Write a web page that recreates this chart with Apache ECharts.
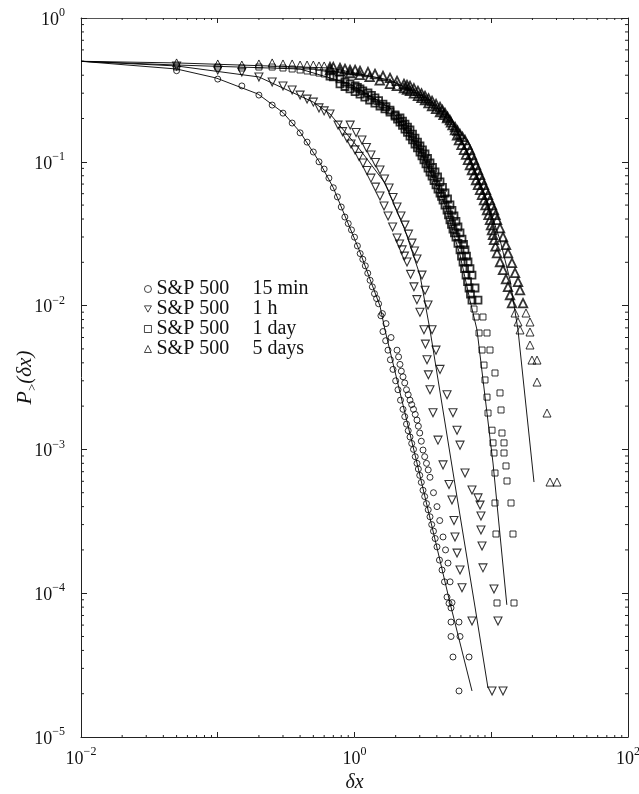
<!DOCTYPE html>
<html><head><meta charset="utf-8">
<script src="https://cdn.jsdelivr.net/npm/echarts@6/dist/echarts.min.js"></script>
<style>html,body{margin:0;padding:0;background:#fff}#chart{width:639px;height:794px}</style>
</head><body><div id="chart"></div>
<script>
const FONT = '"Liberation Serif","Times New Roman",serif';

// ---- labels ----
const seriesNames = ['15 min', '1 h', '1 day', '5 days'];
const legendPrefix = 'S&P 500';
const xLabelExps = [-2, 0, 2];
const yLabelExps = [0, -1, -2, -3, -4, -5];
const xMinorTicks = [0.02,0.03,0.04,0.05,0.06,0.07,0.08,0.09,0.2,0.3,0.4,0.5,0.6,0.7,0.8,0.9,2,3,4,5,6,7,8,9,20,30,40,50,60,70,80,90];
const yMinorTicks = [2e-5,3e-5,4e-5,5e-5,6e-5,7e-5,8e-5,9e-5,2e-4,3e-4,4e-4,5e-4,6e-4,7e-4,8e-4,9e-4,2e-3,3e-3,4e-3,5e-3,6e-3,7e-3,8e-3,9e-3,0.02,0.03,0.04,0.05,0.06,0.07,0.08,0.09,0.2,0.3,0.4,0.5,0.6,0.7,0.8,0.9];

// ---- S&P 500, 15 min (circles) ----
const sp15minCore = [[0.05,0.43],[0.1,0.376],[0.15,0.337],[0.2,0.291],[0.25,0.248],[0.3,0.218],[0.35,0.186],[0.4,0.159],[0.45,0.137],[0.5,0.117],[0.55,0.1],[0.6,0.089],[0.65,0.077],[0.7,0.066],[0.75,0.057],[0.8,0.0485],[0.85,0.0413],[0.9,0.0372],[0.95,0.0336],[1.0,0.0299],[1.05,0.026],[1.1,0.023],[1.15,0.021],[1.2,0.0189],[1.25,0.0168],[1.3,0.015],[1.35,0.0135],[1.4,0.0121],[1.45,0.0112],[1.5,0.0103]];
const sp15minTailA = [[1.56,0.0085],[1.615,0.0066],[1.69,0.0057],[1.758,0.0049],[1.83,0.0042],[1.912,0.0036],[2.0,0.003],[2.08,0.0026],[2.17,0.0022],[2.263,0.0019],[2.4,0.0015],[2.546,0.00122],[2.7,0.001],[2.864,0.0008],[3.0,0.00066],[3.169,0.00052],[3.36,0.00042],[3.565,0.00034],[3.78,0.00027],[4.011,0.00021],[4.18,0.00017],[4.364,0.000145],[4.55,0.00012],[4.747,9.4e-5],[4.91,8.5e-5],[5.08,7.9e-5],[5.08,6.3e-5],[5.08,5.0e-5],[5.25,3.6e-5],[5.81,2.09e-5]];
const sp15minTailA2 = [[2.33,0.00169],[2.47,0.00135],[2.62,0.0011],[2.78,0.00089],[2.93,0.00073],[3.08,0.00059],[3.26,0.00047],[3.46,0.00038],[3.67,0.0003],[3.89,0.00024]];
const sp15minTailB = [[1.6,0.0088],[1.7,0.0075],[1.85,0.006],[2.046,0.0049],[2.15,0.0039],[2.263,0.0032],[2.4,0.0026],[2.546,0.0022],[2.7,0.0019],[2.864,0.0016],[3.0,0.0013],[3.169,0.00099],[3.36,0.0008],[3.565,0.00064],[3.78,0.0005],[4.011,0.0004],[4.2,0.00032],[4.439,0.000246],[4.63,0.0002],[4.828,0.000162],[5.0,0.00012],[5.164,8.6e-5],[5.81,6.3e-5],[5.91,5.0e-5],[6.88,3.6e-5]];
const sp15minTailB2 = [[2.1,0.0044],[2.2,0.0035],[2.33,0.0029],[2.47,0.0024],[2.62,0.00205],[2.78,0.00175],[2.93,0.00145],[3.08,0.00114],[3.26,0.00089],[3.46,0.00072]];
const fit15min = [[0.01,0.5],[0.05,0.442],[0.097,0.383],[0.197,0.296],[0.3,0.22],[0.4,0.161],[0.553,0.1],[0.7,0.066],[0.852,0.042],[1.097,0.0236],[1.3,0.0152],[1.536,0.00994],[1.671,0.00677],[2.864,0.000804],[4.993,8.55e-5],[7.232,2.09e-5]];

// ---- S&P 500, 1 h (down triangles) ----
const sp1hCore = [[0.05,0.464],[0.1,0.435],[0.15,0.421],[0.2,0.389],[0.25,0.359],[0.3,0.337],[0.35,0.316],[0.4,0.291],[0.45,0.273],[0.5,0.26],[0.55,0.237],[0.6,0.226],[0.662,0.215]];
const sp1hTailA = [[0.758,0.18],[0.882,0.146],[1.01,0.121],[1.154,0.098],[1.32,0.077],[1.536,0.0578],[1.76,0.042],[2.046,0.0295],[2.23,0.0244],[2.421,0.0201],[2.57,0.0165],[2.72,0.0135],[2.86,0.011],[3.01,0.009],[3.22,0.0068],[3.3,0.0054],[3.39,0.0042],[3.47,0.0033],[3.565,0.0026],[3.75,0.0018],[4.08,0.00116],[4.44,0.00078],[4.91,0.00057],[5.16,0.000445],[5.34,0.00032],[5.43,0.000246],[5.62,0.00019],[5.91,0.000145],[6.11,0.000109],[7.23,6.4e-5],[10.13,2.09e-5]];
const sp1hTailA2 = [[0.818,0.162],[0.944,0.133],[1.08,0.109],[1.234,0.0869],[1.424,0.0667],[1.644,0.0493],[1.9,0.0352],[2.136,0.0268],[2.32,0.0221]];
const sp1hTailB = [[0.93,0.18],[1.134,0.1417],[1.32,0.1115],[1.536,0.0877],[1.79,0.0657],[2.046,0.0485],[2.34,0.0363],[2.633,0.0272],[2.864,0.0211],[3.117,0.0163],[3.28,0.0128],[3.448,0.0101],[3.69,0.0068],[3.945,0.0049],[4.22,0.0036],[4.75,0.0024],[5.25,0.0018],[5.62,0.00136],[5.91,0.00107],[6.43,0.000685],[7.23,0.000522],[8.0,0.00046],[8.28,0.00041],[8.41,0.000344],[8.41,0.000275],[8.56,0.000213],[8.7,0.00015],[10.47,0.000107],[11.2,6.4e-5],[12.19,2.09e-5]];
const sp1hTailB2 = [[1.027,0.16],[1.223,0.1257],[1.424,0.0989],[1.658,0.0759],[1.914,0.0564],[2.188,0.042],[2.482,0.0314],[2.746,0.024]];
const fit1h = [[0.01,0.5],[0.05,0.464],[0.2,0.389],[0.5,0.26],[0.662,0.215],[1.1,0.121],[1.67,0.0712],[2.34,0.0335],[3.01,0.0163],[3.565,0.00677],[5.617,0.000467],[7.61,8.02e-5],[9.467,2.19e-5]];

// ---- S&P 500, 1 day (squares) ----
const sp1dayCore = [[0.05,0.456],[0.1,0.456],[0.15,0.449],[0.2,0.456],[0.25,0.456],[0.3,0.449],[0.35,0.442],[0.4,0.435],[0.45,0.428],[0.5,0.421],[0.55,0.414],[0.6,0.408],[0.662,0.395],[0.7,0.389],[0.783,0.377],[0.852,0.359],[0.927,0.348],[1.01,0.337],[1.05,0.329],[1.097,0.321],[1.15,0.311],[1.255,0.301],[1.33,0.29],[1.412,0.278],[1.5,0.266],[1.615,0.252],[1.7,0.242],[1.818,0.229]];
const sp1dayTailA = [[1.98,0.208],[2.151,0.189],[2.34,0.169],[2.546,0.151],[2.77,0.133],[3.012,0.117],[3.22,0.103],[3.448,0.0905],[3.69,0.0796],[3.945,0.069],[4.22,0.0607],[4.44,0.0542],[4.75,0.0462],[4.99,0.0394],[5.25,0.0341],[5.52,0.03],[5.91,0.0244],[6.22,0.0201],[6.54,0.0163],[6.88,0.01326],[7.23,0.0109],[7.48,0.00947],[7.74,0.00833],[8.14,0.00645],[8.56,0.00491],[8.85,0.00386],[9.0,0.00304],[9.31,0.00231],[9.47,0.00179],[10.13,0.00136],[10.3,0.00111],[10.47,0.000944],[10.65,0.000685],[10.65,0.000424],[10.83,0.000258],[11.02,8.55e-5]];
const sp1dayTailA2 = [[2.064,0.198],[2.244,0.179],[2.44,0.16],[2.656,0.142],[2.888,0.125],[3.114,0.11],[3.332,0.0966],[3.567,0.0849],[3.815,0.0741],[4.08,0.0647],[4.33,0.0574],[4.59,0.05],[4.87,0.0427],[5.12,0.0367],[5.38,0.032],[5.71,0.0271],[6.06,0.0221],[6.38,0.0181],[6.71,0.0147],[7.05,0.012]];
const sp1dayTailB = [[0.783,0.348],[0.927,0.321],[1.097,0.296],[1.29,0.269],[1.536,0.2444],[1.818,0.222],[2.151,0.2017],[2.34,0.183],[2.546,0.1664],[2.77,0.1463],[3.012,0.1288],[3.278,0.1133],[3.565,0.0981],[3.88,0.0849],[4.22,0.0724],[4.59,0.0607],[4.99,0.0501],[5.34,0.042],[5.71,0.0352],[6.11,0.029],[6.43,0.0244],[6.76,0.0201],[7.23,0.0163],[7.61,0.01326],[8.0,0.0109],[8.7,0.00833],[9.31,0.00645],[9.79,0.00491],[10.65,0.0034],[11.59,0.00247],[11.79,0.00188],[11.98,0.0013],[12.4,0.00111],[12.4,0.000944],[12.82,0.000767],[13.04,0.000603],[13.95,0.000424],[14.42,0.000258],[14.67,8.55e-5]];
const sp1dayTailB2 = [[0.852,0.334],[1.01,0.308],[1.19,0.282],[1.41,0.256],[1.67,0.233],[1.98,0.212],[2.244,0.192],[2.44,0.1745],[2.656,0.156],[2.888,0.137],[3.14,0.121],[3.42,0.1054],[3.72,0.0913],[4.05,0.0784],[4.4,0.0663],[4.79,0.0551],[5.16,0.0459],[5.52,0.0385],[5.91,0.032],[6.27,0.0266],[6.59,0.0221],[6.99,0.0181]];
const fit1day = [[0.01,0.5],[0.05,0.471],[0.4,0.442],[0.927,0.348],[1.818,0.237],[3.012,0.121],[4.59,0.0501],[5.91,0.0225],[6.99,0.0109],[7.87,0.00677],[10.3,0.000804],[13.0,8.3e-5]];

// ---- S&P 500, 5 days (up triangles) ----
const sp5dayCore = [[0.05,0.487],[0.1,0.479],[0.15,0.471],[0.2,0.479],[0.25,0.487],[0.3,0.479],[0.35,0.479],[0.4,0.471],[0.45,0.471],[0.5,0.471],[0.55,0.464],[0.6,0.464],[0.662,0.456],[0.7,0.456],[0.783,0.449],[0.852,0.442],[0.927,0.435],[1.01,0.435],[1.097,0.428],[1.255,0.421],[1.412,0.408],[1.615,0.395],[1.818,0.383],[2.046,0.365]];
const sp5dayTailA = [[2.3,0.348],[2.546,0.337],[2.91,0.311],[3.278,0.287],[3.69,0.265],[4.22,0.2405],[4.59,0.2185],[4.99,0.195],[5.43,0.166],[5.81,0.1417],[6.32,0.121],[6.76,0.103],[7.23,0.0877],[7.74,0.0747],[8.28,0.0637],[8.85,0.0542],[9.31,0.0462],[9.79,0.0394],[10.13,0.0335],[10.47,0.0286],[11.02,0.0232],[11.59,0.0201],[12.19,0.0177],[12.82,0.0153],[13.26,0.0135],[13.71,0.01185],[14.18,0.0104],[14.92,0.00888],[15.69,0.00769],[16.23,0.00677],[19.2,0.00532],[19.86,0.00418],[21.61,0.00294],[25.57,0.00179],[26.89,0.000593]];
const sp5dayTailA2 = [[2.42,0.342],[2.72,0.324],[3.09,0.299],[3.48,0.276],[3.95,0.252],[4.4,0.229],[4.79,0.206],[5.21,0.18],[5.62,0.153],[6.06,0.131],[6.54,0.112],[6.99,0.095],[7.48,0.081],[8.0,0.069],[8.56,0.0588],[9.08,0.05],[9.55,0.0427],[9.96,0.0363],[10.3,0.031],[10.74,0.0258]];
const sp5dayTailB = [[0.662,0.435],[0.927,0.4145],[1.29,0.389],[1.818,0.348],[2.3,0.326],[2.546,0.311],[2.91,0.287],[3.278,0.269],[3.69,0.2444],[4.22,0.222],[4.75,0.2017],[5.43,0.1746],[5.91,0.156],[6.43,0.1417],[6.99,0.1208],[7.48,0.1029],[8.0,0.0877],[8.56,0.0747],[9.15,0.0637],[9.79,0.0542],[10.47,0.0462],[11.02,0.0394],[11.59,0.0346],[12.19,0.03],[12.82,0.0264],[13.26,0.0232],[14.18,0.0198],[14.92,0.0169],[15.69,0.0146],[16.23,0.0128],[17.07,0.0104],[17.95,0.00888],[19.2,0.00769],[19.2,0.00655],[21.61,0.00418],[30.25,0.000593]];
const sp5dayTailB2 = [[0.783,0.425],[1.09,0.402],[1.53,0.368],[2.04,0.337],[2.42,0.318],[2.72,0.299],[3.09,0.278],[3.48,0.256],[3.95,0.233],[4.48,0.212],[5.08,0.188],[5.66,0.165],[6.16,0.149],[6.7,0.131],[7.23,0.1115],[7.74,0.095],[8.28,0.081],[8.85,0.069],[9.46,0.0588],[10.13,0.05],[10.74,0.0427]];
const fit5day = [[0.01,0.5],[0.05,0.487],[0.662,0.449],[1.818,0.37],[3.565,0.269],[5.43,0.172],[6.99,0.106],[9.0,0.0588],[11.59,0.0286],[13.71,0.0151],[15.69,0.00677],[20.54,0.000593]];

const X_MIN = 0.01, X_MAX = 100, Y_MIN = 1e-5, Y_MAX = 1;

function powLabel(exps) {
  return function (value) {
    const e = Math.round(Math.log10(value));
    if (exps.indexOf(e) < 0) return '';
    return '{b|10}{s|' + (e < 0 ? '\u2212' + (-e) : String(e)) + '}';
  };
}
const labelRich = {
  b: { fontFamily: FONT, fontSize: 18, color: '#111', verticalAlign: 'bottom', lineHeight: 22 },
  s: { fontFamily: FONT, fontSize: 12, color: '#111', verticalAlign: 'top', lineHeight: 12 }
};
const axisLineStyle = { color: '#222', width: 1 };

// dense part of a band (drawn with heavier outline, as the overlapping markers print nearly solid)
function inBand(p) { return p[0] > 0.6 && p[1] > 0.01; }
function notInBand(p) { return !inBand(p); }

function scatter(name, data, symbol, size, rotate, bw) {
  return {
    name: name, type: 'scatter', data: data, symbol: symbol, symbolSize: size, symbolRotate: rotate || 0,
    itemStyle: { color: 'rgba(255,255,255,0)', borderColor: '#000', borderWidth: bw || 1 },
    emphasis: { disabled: true }, z: 3, animation: false
  };
}
function fitLine(name, data) {
  return {
    name: name, type: 'line', data: data, showSymbol: false, symbol: 'none',
    lineStyle: { color: '#000', width: 0.9 }, silent: true, z: 2, animation: false
  };
}
function tickLine(x1, y1, x2, y2) {
  return { type: 'line', shape: { x1: x1, y1: y1, x2: x2, y2: y2 }, style: { stroke: '#222', lineWidth: 1 } };
}

const sp1dayAll = sp1dayCore.concat(sp1dayTailA, sp1dayTailA2, sp1dayTailB, sp1dayTailB2);
const sp5dayAll = sp5dayCore.concat(sp5dayTailA, sp5dayTailA2, sp5dayTailB, sp5dayTailB2);

const chart = echarts.init(document.getElementById('chart'), null, { renderer: 'canvas' });
chart.setOption({
  animation: false,
  backgroundColor: '#fff',
  grid: { left: 81, right: 11, top: 18, bottom: 57, containLabel: false, outerBoundsMode: 'none' },
  legend: {
    data: [
      { name: seriesNames[0], icon: 'circle' },
      { name: seriesNames[1], icon: 'path://M0,0L10,0L5,9Z' },
      { name: seriesNames[2], icon: 'rect' },
      { name: seriesNames[3], icon: 'triangle' }
    ],
    orient: 'vertical', left: 144, top: 279, padding: 0,
    itemWidth: 7, itemHeight: 7, itemGap: 0, selectedMode: false,
    itemStyle: { color: 'rgba(255,255,255,0)', borderColor: '#000', borderWidth: 0.9 },
    formatter: function (n) { return '{a|' + legendPrefix + '}{c|' + n + '}'; },
    textStyle: {
      fontFamily: FONT, fontSize: 20, color: '#111', lineHeight: 20,
      rich: { a: { fontFamily: FONT, fontSize: 20, width: 96, lineHeight: 20, color: '#111' },
              c: { fontFamily: FONT, fontSize: 20, lineHeight: 20, color: '#111' } }
    }
  },
  xAxis: [{
    type: 'log', logBase: 10, min: X_MIN, max: X_MAX, splitNumber: 4, position: 'bottom',
    axisLine: { show: true, lineStyle: axisLineStyle },
    axisTick: { show: true, inside: true, length: 5, lineStyle: axisLineStyle },
    axisLabel: { formatter: powLabel(xLabelExps), rich: labelRich, margin: 9 },
    splitLine: { show: false },
    name: 'δx', nameLocation: 'middle', nameGap: 31,
    nameTextStyle: { fontFamily: FONT, fontSize: 20, fontStyle: 'italic', color: '#111' }
  }, {
    type: 'log', logBase: 10, min: X_MIN, max: X_MAX, splitNumber: 4, position: 'top',
    axisLine: { show: true, lineStyle: { color: '#555', width: 1 } },
    axisTick: { show: true, inside: true, length: 5, lineStyle: axisLineStyle },
    axisLabel: { show: false }, splitLine: { show: false }
  }],
  yAxis: [{
    type: 'log', logBase: 10, min: Y_MIN, max: Y_MAX, splitNumber: 5, position: 'left',
    axisLine: { show: true, lineStyle: axisLineStyle },
    axisTick: { show: true, inside: true, length: 6, lineStyle: axisLineStyle },
    axisLabel: { formatter: powLabel(yLabelExps), rich: labelRich, margin: 16 },
    splitLine: { show: false },
    name: '{p|P}{q|>}{t|(δx)}', nameLocation: 'middle', nameGap: 42, nameRotate: 90, nameMoveOverlap: false,
    nameTextStyle: { rich: {
      p: { fontFamily: FONT, fontSize: 22, fontStyle: 'italic', color: '#111', lineHeight: 28 },
      q: { fontFamily: FONT, fontSize: 13, color: '#111', lineHeight: 13, verticalAlign: 'bottom' },
      t: { fontFamily: FONT, fontSize: 21, fontStyle: 'italic', color: '#111', lineHeight: 28 }
    } }
  }, {
    type: 'log', logBase: 10, min: Y_MIN, max: Y_MAX, splitNumber: 5, position: 'right',
    axisLine: { show: true, lineStyle: axisLineStyle },
    axisTick: { show: true, inside: true, length: 6, lineStyle: axisLineStyle },
    axisLabel: { show: false }, splitLine: { show: false }
  }],
  series: [
    fitLine('fit 15 min', fit15min),
    fitLine('fit 1 h', fit1h),
    fitLine('fit 1 day', fit1day),
    fitLine('fit 5 days', fit5day),
    scatter(seriesNames[0], sp15minCore.concat(sp15minTailA, sp15minTailA2, sp15minTailB, sp15minTailB2), 'circle', 6, 0, 1),
    scatter(seriesNames[1], sp1hCore.concat(sp1hTailA, sp1hTailA2, sp1hTailB, sp1hTailB2), 'triangle', 8, 180, 1.1),
    scatter(seriesNames[2], sp1dayAll.filter(notInBand), 'rect', 6, 0, 1),
    scatter(seriesNames[2], sp1dayAll.filter(inBand), 'rect', 7, 0, 1.8),
    scatter(seriesNames[3], sp5dayAll.filter(notInBand), 'triangle', 8, 0, 1),
    scatter(seriesNames[3], sp5dayAll.filter(inBand), 'triangle', 8.5, 0, 1.8),
    {
      name: 'y minor ticks', type: 'custom', silent: true, clip: false, animation: false,
      data: yMinorTicks.map(function (v) { return [1, v]; }),
      renderItem: function (params, api) {
        const cs = params.coordSys;
        const p = api.coord([1, api.value(1)]);
        return { type: 'group', children: [
          tickLine(cs.x, p[1], cs.x + 3, p[1]),
          tickLine(cs.x + cs.width - 3, p[1], cs.x + cs.width, p[1])
        ] };
      }
    },
    {
      name: 'x minor ticks', type: 'custom', silent: true, clip: false, animation: false,
      data: xMinorTicks.map(function (v) { return [v, 0.1]; }),
      renderItem: function (params, api) {
        const cs = params.coordSys;
        const p = api.coord([api.value(0), 0.1]);
        return { type: 'group', children: [
          tickLine(p[0], cs.y + cs.height, p[0], cs.y + cs.height - 2),
          tickLine(p[0], cs.y, p[0], cs.y + 2)
        ] };
      }
    }
  ]
});
</script></body></html>
